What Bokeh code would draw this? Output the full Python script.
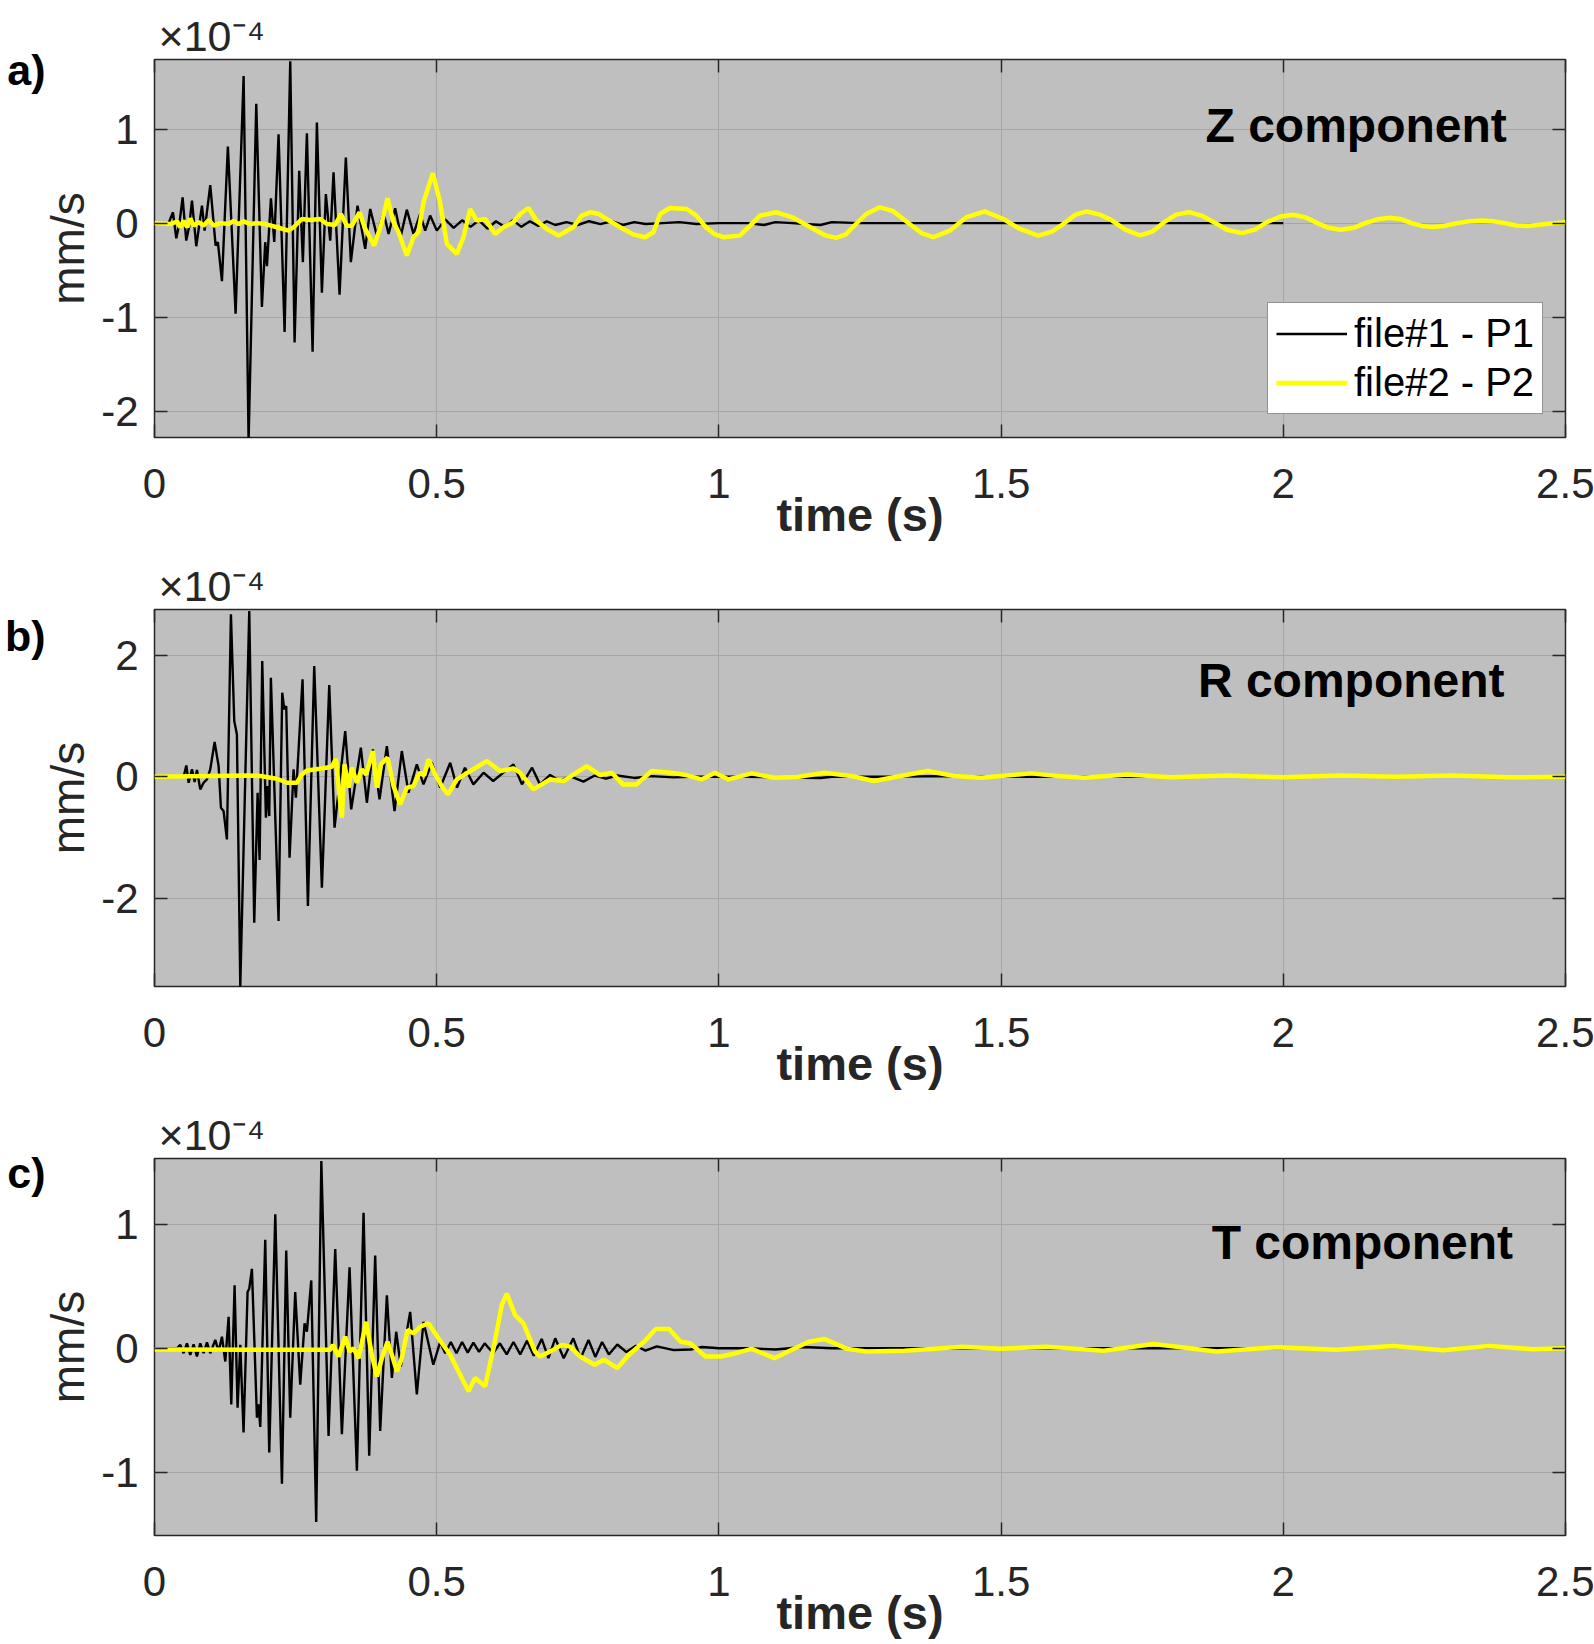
from bokeh.plotting import figure
from bokeh.layouts import column
from bokeh.models import (Range1d, FixedTicker, LinearAxis, Label, Legend, LegendItem,
                          GlobalInlineStyleSheet)
from bokeh.embed import file_html
from bokeh.resources import INLINE

# ---------------- data (velocity in units of 1e-4 mm/s) ----------------
x_ticks = [0, 0.5, 1, 1.5, 2, 2.5]
x_tick_labels = ["0", "0.5", "1", "1.5", "2", "2.5"]

# Z component
z1_t = [0.0, 0.025, 0.0327, 0.0386, 0.0445, 0.0498, 0.0563, 0.0616, 0.0664, 0.074, 0.0841, 0.0888,
        0.0988, 0.1083, 0.1123, 0.1195, 0.130, 0.1437, 0.1579, 0.1667, 0.1803, 0.1903, 0.1962, 0.1992,
        0.2063, 0.2122, 0.2198, 0.2305, 0.2405, 0.2482, 0.2564, 0.2629, 0.270, 0.2801, 0.2877, 0.2966,
        0.3036, 0.3113, 0.3172, 0.3279, 0.339, 0.3479, 0.3597, 0.3733, 0.3822, 0.394, 0.4058, 0.4147,
        0.4264, 0.4365, 0.4471, 0.4589, 0.4707, 0.4796, 0.4884, 0.5002, 0.515, 0.53, 0.545, 0.56,
        0.575, 0.59, 0.605, 0.62, 0.635, 0.65, 0.665, 0.68, 0.695, 0.71, 0.73, 0.75, 0.77, 0.79,
        0.81, 0.83, 0.85, 0.87, 0.90, 0.93, 0.96, 1.0, 1.05, 1.08, 1.10, 1.13, 1.18, 1.20, 1.25,
        1.35, 1.5, 1.7, 2.0]
z1_v = [0.0, 0.0, 0.115, -0.161, 0.01, 0.274, -0.186, -0.03, 0.239, -0.246, 0.186, -0.08,
        0.405, -0.239, -0.203, -0.618, 0.814, -0.963, 1.564, -2.32, 1.27, -0.892, -0.203, -0.458,
        0.263, -0.2, 0.945, -1.157, 1.72, -1.27, 0.557, -0.415, 0.956, -1.369, 1.069, -0.74,
        0.309, -0.186, 0.539, -0.761, 0.698, -0.415, 0.186, -0.274, 0.15, -0.133, 0.115, -0.115,
        0.157, -0.133, 0.143, -0.115, 0.097, -0.08, 0.08, -0.08, 0.04, -0.05, 0.03, -0.04,
        0.03, -0.06, 0.02, -0.04, 0.03, -0.04, 0.02, -0.03, 0.02, -0.02, 0.01, -0.02, 0.02, -0.01,
        0.02, -0.02, 0.01, -0.01, 0.0, 0.01, -0.01, 0.0, 0.0, -0.02, 0.01, 0.0, -0.02, 0.01, 0.0,
        0.0, 0.0, 0.0, 0.0]
z2_t = [0.0, 0.028, 0.040, 0.046, 0.052, 0.058, 0.0634, 0.0693, 0.078, 0.087, 0.096, 0.105,
        0.1165, 0.1313, 0.140, 0.149, 0.158, 0.1696, 0.1815, 0.1962, 0.2169, 0.2375, 0.2464, 0.2611,
        0.2759, 0.2936, 0.3054, 0.3202, 0.3302, 0.3409, 0.3497, 0.3633, 0.3733, 0.3893, 0.4029,
        0.4129, 0.4235, 0.4324, 0.4471, 0.4589, 0.4678, 0.4766, 0.4932, 0.506, 0.518, 0.5356,
        0.5475, 0.5593, 0.571, 0.586, 0.6035, 0.6183, 0.636, 0.648, 0.6625, 0.677, 0.695,
        0.716, 0.742, 0.757, 0.772, 0.786, 0.801, 0.825, 0.848, 0.869, 0.884, 0.896, 0.913,
        0.943, 0.960, 0.977, 0.993, 1.008, 1.037, 1.055, 1.073, 1.102, 1.131, 1.167, 1.188,
        1.208, 1.225, 1.237, 1.261, 1.285, 1.308, 1.338, 1.36, 1.38, 1.409, 1.438, 1.471,
        1.504, 1.533, 1.566, 1.59, 1.61, 1.632, 1.652, 1.675, 1.696, 1.72, 1.746, 1.768,
        1.789, 1.81, 1.833, 1.855, 1.877, 1.90, 1.927, 1.95, 1.971, 1.995, 2.018, 2.04,
        2.06, 2.08, 2.102, 2.125, 2.145, 2.167, 2.189, 2.21, 2.227, 2.245, 2.264, 2.285,
        2.308, 2.33, 2.352, 2.372, 2.392, 2.413, 2.433, 2.465, 2.5]
z2_v = [0.0, -0.01, 0.017, -0.044, 0.024, -0.044, 0.05, -0.027, 0.01, -0.027, 0.033, -0.027,
        0.0, -0.01, 0.024, -0.01, 0.019, -0.01, 0.0, -0.01, -0.044, -0.08, -0.044, 0.044,
        0.033, 0.044, -0.01, -0.02, 0.097, -0.027, -0.027, 0.115, -0.062, -0.239, 0.009,
        0.263, 0.009, -0.097, -0.345, -0.15, -0.097, 0.221, 0.53, 0.221, -0.22, -0.327,
        -0.15, 0.15, 0.027, 0.044, -0.115, -0.044, 0.009, 0.097, 0.161, 0.027, -0.062,
        -0.133, -0.044, 0.08, 0.115, 0.1, 0.044, -0.044, -0.12, -0.15, -0.097, 0.097, 0.161,
        0.15, 0.08, -0.044, -0.12, -0.15, -0.133, -0.03, 0.08, 0.115, 0.06, -0.06, -0.13,
        -0.157, -0.12, -0.044, 0.097, 0.168, 0.13, -0.01, -0.11, -0.15, -0.08, 0.06, 0.125,
        0.044, -0.062, -0.133, -0.09, -0.01, 0.09, 0.124, 0.09, 0.03, -0.07, -0.131, -0.09,
        0.01, 0.09, 0.117, 0.08, 0.01, -0.07, -0.106, -0.07, 0.01, 0.07, 0.088, 0.06,
        0.0, -0.05, -0.07, -0.05, 0.0, 0.04, 0.057, 0.04, 0.0, -0.03, -0.042, -0.03,
        0.0, 0.02, 0.028, 0.02, 0.0, -0.025, -0.032, -0.01, 0.01]

# R component
r1_t = [0.0, 0.0516, 0.0564, 0.0605, 0.0664, 0.0711, 0.0752, 0.0811, 0.087, 0.0929, 0.0988,
        0.1065, 0.1136, 0.1177, 0.1224, 0.1283, 0.1354, 0.1413, 0.146, 0.152, 0.1679, 0.1767,
        0.1827, 0.1862, 0.1909, 0.1974, 0.2003, 0.2033, 0.2062, 0.2198, 0.2263, 0.2299, 0.2334,
        0.2393, 0.2464, 0.2505, 0.2623, 0.2718, 0.283, 0.2966, 0.3096, 0.319, 0.3379, 0.3485,
        0.3656, 0.3763, 0.3869, 0.3987, 0.4117, 0.4253, 0.4382, 0.45, 0.4648, 0.4766, 0.4914,
        0.5061, 0.524, 0.536, 0.55, 0.565, 0.583, 0.600, 0.636, 0.651, 0.669, 0.683, 0.701,
        0.718, 0.736, 0.76, 0.78, 0.80, 0.82, 0.85, 0.88, 0.92, 0.95, 1.0, 1.05, 1.1, 1.18, 1.2,
        1.3, 1.4, 1.5, 1.7, 2.0]
r1_v = [0.0, 0.0, 0.186, -0.099, 0.121, -0.088, 0.11, -0.208, -0.099, -0.044, 0.121,
        0.57, 0.175, -0.51, -0.565, -1.031, 2.67, 0.916, 0.696, -3.45, 2.725, -2.401,
        -0.263, -1.371, 1.902, -0.674, -0.154, -0.647, 1.628, -2.374, 1.382, 1.107, 1.162,
        -1.332, 0.121, -0.345, 1.601, -2.127, 1.82, -1.826, 1.508, -0.839, 0.751, -0.537,
        0.477, -0.428, 0.45, -0.373, 0.504, -0.565, 0.422, -0.263, 0.203, -0.126, 0.23,
        -0.181, 0.23, -0.18, 0.148, -0.126, 0.066, -0.07, 0.203, -0.126, 0.148, -0.126, 0.03,
        -0.07, 0.01, -0.08, 0.02, -0.03, 0.02, -0.02, 0.01, -0.01, 0.0, 0.0, 0.0, -0.01, -0.02, 0.0,
        0.0, 0.01, 0.0, 0.0, 0.0]
r2_t = [0.0, 0.1637, 0.1874, 0.2169, 0.2346, 0.2523, 0.2612, 0.27, 0.2936, 0.3143, 0.3214,
        0.3273, 0.332, 0.3367, 0.3438, 0.3497, 0.3586, 0.3674, 0.3751, 0.3869, 0.394, 0.4011,
        0.4129, 0.4235, 0.4353, 0.4471, 0.4589, 0.4695, 0.4778, 0.4855, 0.4973, 0.510, 0.52,
        0.5357, 0.5593, 0.5888, 0.6124, 0.636, 0.6478, 0.6714, 0.701, 0.7246, 0.7425, 0.766,
        0.7895, 0.81, 0.830, 0.854, 0.881, 0.915, 0.942, 0.969, 0.993, 1.017, 1.058, 1.098,
        1.139, 1.187, 1.234, 1.275, 1.322, 1.37, 1.417, 1.465, 1.553, 1.60, 1.648, 1.723, 1.8,
        1.9, 2.0, 2.1, 2.2, 2.3, 2.4, 2.5]
r2_v = [0.0, 0.022, 0.011, -0.033, -0.099, -0.099, 0.038, 0.104, 0.132, 0.164, 0.296,
        -0.263, -0.674, 0.203, -0.181, 0.148, -0.099, 0.121, 0.038, 0.422, -0.181, 0.203,
        0.313, -0.154, -0.455, -0.181, -0.154, 0.066, 0.022, 0.285, 0.038, -0.17, -0.29,
        -0.044, 0.093, 0.258, 0.093, 0.137, 0.066, -0.208, -0.044, -0.071, 0.038, 0.175,
        0.027, 0.066, -0.126, -0.126, 0.093, 0.066, 0.027, -0.044, 0.066, -0.044, 0.055, -0.016,
        -0.005, 0.066, 0.011, -0.071, 0.011, 0.093, 0.011, -0.016, 0.055, 0.011, -0.016, 0.038, -0.01,
        0.02, -0.01, 0.02, 0.0, 0.02, -0.01, 0.0]

# T component
t1_t = [0.0, 0.0398, 0.0457, 0.0516, 0.0575, 0.0634, 0.0693, 0.0752, 0.0811, 0.087, 0.0929,
        0.0988, 0.1077, 0.1136, 0.1195, 0.1254, 0.1313, 0.136, 0.1419, 0.1472, 0.152, 0.1578,
        0.1649, 0.1679, 0.1726, 0.1815, 0.1844, 0.1874, 0.1962, 0.2033, 0.214, 0.2258, 0.2334,
        0.2405, 0.2493, 0.2582, 0.2659, 0.27, 0.2777, 0.2865, 0.2956, 0.3084, 0.3202, 0.332,
        0.3456, 0.3586, 0.3704, 0.3804, 0.391, 0.3999, 0.4117, 0.4206, 0.4282, 0.4365, 0.453,
        0.4648, 0.4766, 0.494, 0.506, 0.515, 0.525, 0.535, 0.545, 0.555, 0.565, 0.575, 0.585,
        0.600, 0.612, 0.624, 0.636, 0.648, 0.660, 0.672, 0.686, 0.698, 0.710, 0.725, 0.742,
        0.755, 0.769, 0.781, 0.793, 0.805, 0.820, 0.836, 0.853, 0.87, 0.89, 0.92, 0.95, 0.97,
        1.0, 1.05, 1.1, 1.15, 1.2, 1.3, 1.5, 1.7, 2.0]
t1_v = [0.0, 0.0, 0.027, -0.04, 0.04, -0.053, 0.032, -0.067, 0.04, -0.04, 0.048,
        -0.04, 0.067, -0.027, 0.093, -0.107, 0.253, -0.453, 0.507, -0.48, 0.027, -0.68,
        0.453, 0.48, 0.64, -0.56, -0.453, -0.635, 0.875, -0.84, 1.08, -1.093, 0.787,
        -0.56, 0.453, -0.293, 0.2, 0.133, 0.547, -1.4, 1.51, -0.707, 0.8, -0.693,
        0.653, -0.987, 1.093, -0.867, 0.747, -0.667, 0.427, -0.24, 0.133, -0.147, 0.293,
        -0.373, 0.213, -0.133, 0.05, -0.04, 0.05, -0.04, 0.05, -0.035, 0.045, -0.03, 0.04,
        -0.04, 0.04, -0.05, 0.05, -0.05, 0.06, -0.06, 0.075, -0.08, 0.08, -0.08, 0.08,
        -0.08, 0.067, -0.07, 0.05, -0.05, 0.03, -0.03, 0.02, -0.02, 0.015, -0.015, -0.01, 0.01,
        0.0, 0.0, -0.01, 0.01, 0.0, 0.0, 0.0, 0.0, 0.0]
t2_t = [0.0, 0.3113, 0.316, 0.326, 0.3379, 0.3456, 0.3527, 0.3615, 0.3751, 0.3851, 0.394,
        0.4029, 0.4129, 0.4206, 0.4294, 0.4382, 0.4483, 0.4589, 0.4707, 0.4855, 0.5032, 0.5239,
        0.5356, 0.5563, 0.5681, 0.5858, 0.6006, 0.6153, 0.6242, 0.639, 0.6537, 0.6744, 0.6833,
        0.701, 0.7216, 0.7364, 0.7541, 0.7795, 0.7965, 0.8202, 0.8406, 0.8677, 0.8881, 0.9118,
        0.9322, 0.9491, 0.9763, 1.0034, 1.0305, 1.0577, 1.0984, 1.1255, 1.1594, 1.1866, 1.2273,
        1.2612, 1.329, 1.3833, 1.4308, 1.4986, 1.58, 1.6818, 1.77, 1.8815, 1.9878, 2.0941,
        2.1945, 2.283, 2.3657, 2.4425, 2.5]
t2_v = [-0.01, -0.013, 0.027, -0.067, 0.093, -0.027, 0.0, -0.08, 0.213, -0.053, -0.227,
        -0.08, 0.053, -0.053, -0.187, -0.08, 0.147, 0.12, 0.173, 0.2, 0.08, -0.053,
        -0.16, -0.347, -0.24, -0.307, 0.0, 0.347, 0.44, 0.267, 0.2, -0.027, -0.067,
        -0.027, 0.027, 0.013, -0.067, -0.133, -0.093, -0.16, -0.053, 0.053, 0.155, 0.155,
        0.053, 0.04, -0.067, -0.067, -0.04, -0.005, -0.08, -0.021, 0.053, 0.075, -0.005,
        -0.027, -0.021, -0.005, 0.013, -0.005, 0.013, -0.021, 0.035, -0.027, 0.008, -0.013,
        0.019, -0.016, 0.019, -0.008, 0.0]

panels = [
    dict(letter="a)", comp="Z component", t1=z1_t, v1=z1_v, t2=z2_t, v2=z2_v,
         yr=(-2.28, 1.74), yticks=[-2, -1, 0, 1], legend=True),
    dict(letter="b)", comp="R component", t1=r1_t, v1=r1_v, t2=r2_t, v2=r2_v,
         yr=(-3.45, 2.75), yticks=[-2, 0, 2], legend=False),
    dict(letter="c)", comp="T component", t1=t1_t, v1=t1_v, t2=t2_t, v2=t2_v,
         yr=(-1.51, 1.53), yticks=[-1, 0, 1], legend=False),
]
exponent_text = "\u00d710\u207b\u2074"

FONT = "Liberation Sans"
AX = "#262626"
BG = "#bfbfbf"
GRID = "#a6a6a6"
FRAME_W, FRAME_H = 1411, 378
FRAME_L = 154
BOTTOM = 121
TOPS = [59, 50, 50]
# vertical position (px below frame top) of the panel letters' centre
LETTER_Y = [10.8, 26.4, 15.0]
COMP = [(2.396, 83.7), (2.392, 89.2), (2.407, 101.6)]
EXP_X = 0.1015


def quiet_axis(ticker, overrides, font_size, style, color, standoff):
    return LinearAxis(ticker=ticker, major_label_overrides=overrides,
                      axis_line_color=None, major_tick_line_color=None,
                      minor_tick_line_color=None, major_tick_in=0, major_tick_out=0,
                      major_label_standoff=standoff, major_label_text_font=FONT,
                      major_label_text_font_size=font_size,
                      major_label_text_font_style=style, major_label_text_color=color)


figs = []
for i, cfg in enumerate(panels):
    top_b = TOPS[i]
    height = top_b + FRAME_H + BOTTOM
    y0, y1 = cfg["yr"]
    ppu = FRAME_H / (y1 - y0)
    p = figure(width=1594, height=height, x_range=Range1d(0, 2.5), y_range=Range1d(y0, y1),
               output_backend="svg", toolbar_location=None, title_location=None,
               min_border_left=FRAME_L, min_border_right=1594 - FRAME_L - FRAME_W,
               min_border_top=top_b, min_border_bottom=BOTTOM,
               background_fill_color=BG, border_fill_color="white",
               outline_line_color=AX, outline_line_width=1.5)
    xt = FixedTicker(ticks=x_ticks)
    yt = FixedTicker(ticks=cfg["yticks"])
    p.xgrid.ticker = xt
    p.ygrid.ticker = yt
    for g in (p.xgrid, p.ygrid):
        g.grid_line_color = GRID
        g.grid_line_width = 1
    ax = p.xaxis[0]
    ax.ticker = xt
    ax.major_label_overrides = dict(zip(x_ticks, x_tick_labels))
    ax.axis_label = "time (s)"
    ax.axis_label_text_font = FONT
    ax.axis_label_text_font_style = "bold"
    ax.axis_label_text_font_size = "47px"
    ax.axis_label_text_color = AX
    ax.axis_label_standoff = -13
    ay = p.yaxis[0]
    ay.ticker = yt
    ay.major_label_overrides = {v: str(v) for v in cfg["yticks"]}
    ay.axis_label = "mm/s"
    ay.axis_label_text_font = FONT
    ay.axis_label_text_font_style = "normal"
    ay.axis_label_text_font_size = "46px"
    ay.axis_label_text_color = AX
    ay.axis_label_standoff = 4
    for a, st in ((ax, 31), (ay, 16)):
        a.major_label_text_font = FONT
        a.major_label_text_font_size = "42px"
        a.major_label_text_color = AX
        a.major_label_standoff = st
        a.axis_line_color = None
        a.major_tick_in = 13
        a.major_tick_out = 0
        a.major_tick_line_color = AX
        a.major_tick_line_width = 1.5
        a.minor_tick_line_color = None
    # mirrored inward ticks on top and right
    top = LinearAxis(ticker=xt, major_label_overrides={v: "" for v in x_ticks},
                     axis_line_color=None, major_tick_in=13, major_tick_out=0,
                     major_tick_line_color=AX, major_tick_line_width=1.5,
                     minor_tick_line_color=None, major_label_standoff=0,
                     major_label_text_font_size="1px")
    right = LinearAxis(ticker=yt, major_label_overrides={v: "" for v in cfg["yticks"]},
                       axis_line_color=None, major_tick_in=13, major_tick_out=0,
                       major_tick_line_color=AX, major_tick_line_width=1.5,
                       minor_tick_line_color=None, major_label_standoff=0,
                       major_label_text_font_size="1px")
    p.add_layout(top, "above")
    p.add_layout(right, "right")
    # exponent "x10^-4" above the frame (label of an extra, mark-less top axis)
    p.add_layout(quiet_axis(FixedTicker(ticks=[EXP_X]), {EXP_X: exponent_text},
                            "43px", "normal", AX, 0), "above")
    # panel letter left of the y-axis label (label of an extra, mark-less left axis)
    lv = round(y1 - LETTER_Y[i] / ppu, 4)
    p.add_layout(quiet_axis(FixedTicker(ticks=[lv]), {lv: cfg["letter"]},
                            "43px", "bold", "black", -6), "left")

    r1 = p.line(cfg["t1"], cfg["v1"], line_color="black", line_width=2.4)
    r2 = p.line(cfg["t2"], cfg["v2"], line_color="#ffff00", line_width=4.5)

    cx, cy = COMP[i]
    p.add_layout(Label(x=cx, y=y1 - (cy - 0.37 * 48) / ppu, text=cfg["comp"], text_font=FONT,
                       text_font_size="48px", text_font_style="bold", text_color="black",
                       text_align="right", text_baseline="alphabetic"))

    if cfg["legend"]:
        leg = Legend(items=[LegendItem(label="file#1 - P1", renderers=[r1]),
                            LegendItem(label="file#2 - P2", renderers=[r2])],
                     location=(1113, 23), orientation="vertical",
                     border_line_color=AX, border_line_width=1,
                     background_fill_color="white", background_fill_alpha=1.0,
                     label_text_font=FONT, label_text_font_size="40px",
                     label_text_color="black", glyph_width=71, glyph_height=45,
                     label_height=45, label_standoff=7, spacing=4, padding=8, margin=0)
        p.add_layout(leg)
    figs.append(p)

layout = column(*figs, spacing=0,
                stylesheets=[GlobalInlineStyleSheet(css="html, body { overflow: hidden; }")])
open("out.html", "w").write(file_html(layout, INLINE))
